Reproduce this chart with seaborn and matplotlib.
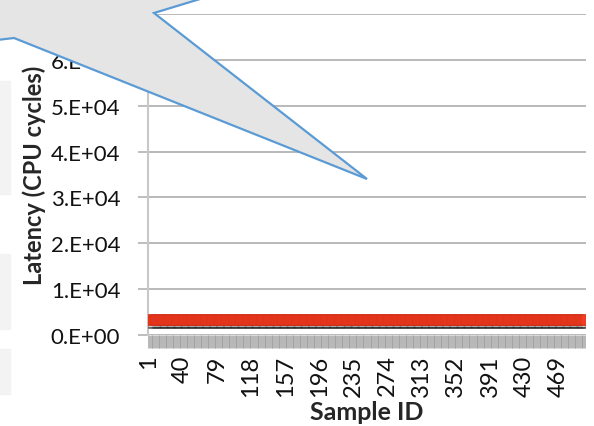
import math
import pandas as pd
import matplotlib
matplotlib.use("Agg")
import matplotlib.pyplot as plt
import matplotlib.patheffects as pe
from matplotlib.patches import Polygon, Rectangle
from matplotlib.ticker import FuncFormatter, FixedLocator
import seaborn as sns

# data: ~500 samples, flat at ~3.3E+03 cycles
sample_id = list(range(1, 501))
latency = [3300] * 500
latency[228] = 3400
label_ids = list(range(1, 501, 39))   # 1, 40, 79, ... 469

df = pd.DataFrame({"pos": [i - 1 for i in sample_id], "latency": latency})

sns.set_style("white")
plt.rcParams["font.family"] = ["Lato", "DejaVu Sans"]

W, H = 594, 427
fig = plt.figure(figsize=(W / 100, H / 100), dpi=100)
ax = fig.add_axes([148 / W, 1 - 336 / H, (586 - 148) / W, (336 - 15) / H])

sns.lineplot(data=df, x="pos", y="latency", ax=ax, color="#e8341c",
             marker="s", markersize=7, markerfacecolor="#f03c22",
             markeredgecolor="#cf2c14", markeredgewidth=0.3, linewidth=2.5,
             zorder=3,
             path_effects=[pe.SimpleLineShadow(offset=(0.8, -2.0), alpha=0.45),
                           pe.Normal()])

ax.set_xlim(-0.5, 499.5)
ax.set_ylim(0, 70000)
ax.set_yticks(range(0, 70001, 10000))


def sci(v, _):
    if v == 0:
        return "0.E+00"
    e = int(math.floor(math.log10(abs(v))))
    return f"{v / 10 ** e:.0f}.E+{e:02d}"


ax.yaxis.set_major_formatter(FuncFormatter(sci))
ax.yaxis.grid(True, color="#b3b3b3", linewidth=1.3)
ax.xaxis.grid(False)

ax.xaxis.set_major_locator(FixedLocator([i - 1 for i in label_ids]))
ax.set_xticklabels([str(i) for i in label_ids], rotation=90)
ax.xaxis.set_minor_locator(FixedLocator([i - 0.5 for i in range(-1, 500)]))
ax.tick_params(axis="x", which="major", length=0, pad=14, labelsize=17, colors="#111111")
ax.tick_params(axis="x", which="minor", length=9, width=0.5, color="#9a9a9a", bottom=True)
ax.tick_params(axis="y", which="major", length=7, width=1.2, color="#b3b3b3",
               pad=13, labelsize=16, left=True, labelcolor="#111111")

for s in ["top", "right", "bottom"]:
    ax.spines[s].set_visible(False)
ax.spines["left"].set_color("#c8c8c8")
ax.spines["left"].set_linewidth(1.5)

ax.set_xlabel("Sample ID", fontsize=18, fontweight="bold")
ax.set_ylabel("Latency (CPU cycles)", fontsize=17, fontweight="bold")
ax.xaxis.set_label_coords(0.5, (336 - 401) / 321)
ax.yaxis.set_label_coords((46 - 148) / 438, 0.5)


def px(x, y):
    return (x / W, 1 - y / H)


# faint boxes of a neighbouring shape at the left edge
for y0, y1 in [(82, 195), (255, 330), (350, 395)]:
    fig.add_artist(Rectangle(px(0, y1), 10 / W, (y1 - y0) / H,
                             transform=fig.transFigure, color="#f3f3f3", zorder=0))

# callout shape overlapping the chart
callout = Polygon([px(-20, 43), px(14, 39), px(367, 180), px(154, 14),
                   px(246, -14), px(-20, -14)], closed=True,
                  transform=fig.transFigure, facecolor="#e5e5e5",
                  edgecolor="#5b9bd5", linewidth=1.6, zorder=10, clip_on=False)
fig.add_artist(callout)

fig.savefig("out.png", dpi=100)
